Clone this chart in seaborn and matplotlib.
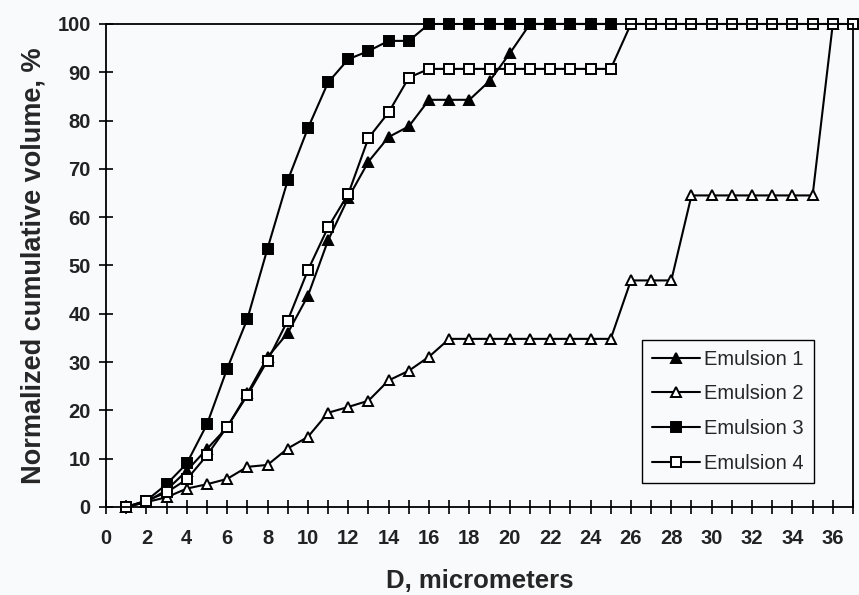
import matplotlib
matplotlib.use("Agg")
import matplotlib.pyplot as plt
from matplotlib.ticker import MultipleLocator
import seaborn as sns
import pandas as pd

# ---- data ----
x_e1 = list(range(1, 26))
y_e1 = [0, 1, 3.5, 7.5, 12, 16.5, 23.5, 31, 36, 43.7, 55.2, 64, 71.5, 76.6, 78.8,
        84.3, 84.3, 84.3, 88.2, 93.9, 100, 100, 100, 100, 100]

x_e2 = list(range(1, 37))
y_e2 = [0, 1, 2, 3.8, 4.7, 5.8, 8.3, 8.7, 12.1, 14.5, 19.5, 20.7, 22, 26.2, 28.2, 31.1,
        34.8, 34.8, 34.8, 34.8, 34.8, 34.8, 34.8, 34.8, 34.8,
        46.9, 46.9, 46.9,
        64.5, 64.5, 64.5, 64.5, 64.5, 64.5, 64.5,
        100]

x_e3 = list(range(1, 26))
y_e3 = [0, 1.3, 4.7, 9, 17.1, 28.6, 38.9, 53.5, 67.6, 78.4, 87.9, 92.7, 94.4, 96.5, 96.5,
        100, 100, 100, 100, 100, 100, 100, 100, 100, 100]

x_e4 = list(range(1, 38))
y_e4 = [0, 1.3, 3, 5.7, 10.7, 16.6, 23.1, 30.3, 38.6, 49, 57.9, 64.8, 76.4, 81.7, 88.9,
        90.7, 90.7, 90.7, 90.7, 90.7, 90.7, 90.7, 90.7, 90.7, 90.7,
        100, 100, 100, 100, 100, 100, 100, 100, 100, 100, 100, 100]

series_names = ["Emulsion 1", "Emulsion 2", "Emulsion 3", "Emulsion 4"]
x_ticks = list(range(0, 37, 2))
y_ticks = list(range(0, 101, 10))

# ---- style ----
sns.set_style("ticks")
plt.rcParams["font.family"] = ["Liberation Sans", "DejaVu Sans"]

bg = "#f9fafc"
fig = plt.figure(figsize=(8.59, 5.95), dpi=100, facecolor=bg)
ax = fig.add_subplot(111)
ax.set_facecolor(bg)
fig.subplots_adjust(left=0.1234, right=0.993, bottom=0.148, top=0.9597)

styles = [
    dict(marker="^", markerfacecolor="black", markersize=7),
    dict(marker="^", markerfacecolor="white", markersize=7.5),
    dict(marker="s", markerfacecolor="black", markersize=7.5),
    dict(marker="s", markerfacecolor="white", markersize=7.5),
]
data = [(x_e1, y_e1), (x_e2, y_e2), (x_e3, y_e3), (x_e4, y_e4)]

for name, (xs, ys), st in zip(series_names, data, styles):
    df = pd.DataFrame({"D": xs, "V": ys})
    sns.lineplot(data=df, x="D", y="V", ax=ax, color="black", linewidth=1.5,
                 markeredgecolor="black", markeredgewidth=1.4, clip_on=False,
                 label=name, **st)

ax.set_xlim(0, 37)
ax.set_ylim(0, 100)
ax.set_xticks(x_ticks)
ax.xaxis.set_minor_locator(MultipleLocator(1))
ax.set_yticks(y_ticks)

for s in ax.spines.values():
    s.set_color("black")
    s.set_linewidth(1.3)
    s.set_visible(True)

ax.tick_params(axis="both", which="both", direction="inout", length=10,
               width=1.2, color="black")
ax.tick_params(axis="x", which="major", labelsize=14.5, pad=11)
ax.tick_params(axis="y", which="major", labelsize=14.5, pad=6)
for lab in ax.get_xticklabels() + ax.get_yticklabels():
    lab.set_fontweight("bold")
    lab.set_color("#222222")

ax.set_xlabel("D, micrometers", fontsize=18.5, fontweight="bold", labelpad=15)
ax.set_ylabel("Normalized cumulative volume, %", fontsize=19.5, fontweight="bold", labelpad=8)

leg = ax.legend(loc="lower left", bbox_to_anchor=(0.7175, 0.0497), borderaxespad=0,
                fontsize=14.5, frameon=True, fancybox=False, handlelength=2.4,
                handletextpad=0.2, labelspacing=0.78, borderpad=0.5)
leg.get_frame().set_edgecolor("black")
leg.get_frame().set_linewidth(1.0)
leg.get_frame().set_facecolor(bg)
leg.get_frame().set_alpha(1)

fig.savefig("out.png", dpi=100, facecolor=bg)
